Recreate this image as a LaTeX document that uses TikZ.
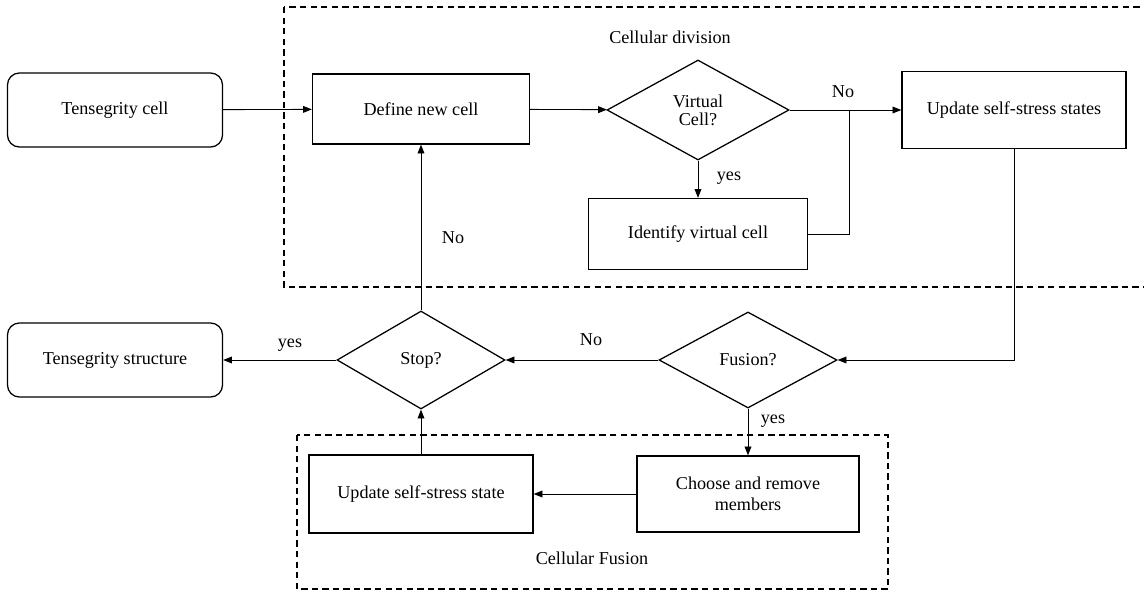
\documentclass[tikz,border=0pt]{standalone}
\usepackage{fontspec}
\setmainfont{Liberation Serif}
\usetikzlibrary{shapes.geometric, positioning, arrows.meta}

\tikzset{
  procbox/.style={draw, line width=0.9pt, align=center, inner sep=2pt},
  termbox/.style={draw, line width=0.9pt, rounded corners=0.3cm,
    minimum width=5.375cm, minimum height=1.85cm},
  decision/.style={draw, diamond, line width=0.9pt, inner sep=0pt, align=center},
  group/.style={line width=0.8pt, dash pattern=on 4.5pt off 3pt},
  link/.style={line width=0.6pt},
  conn/.style={link, -{Triangle[length=2.2mm,width=1.7mm]}}
}

\begin{document}
\begin{tikzpicture}[x=0.025cm, y=-0.025cm, font=\fontsize{12.9}{15}\selectfont]
    \useasboundingbox (0,0) rectangle (1144,592);
    % Dashed groups
    \draw [group] (284,7) rectangle (1170,287);
    \draw [group] (297,435) rectangle (888,589);
    \node (divlabel) at (670,37) {Cellular division};
    \node (fuslabel) at (592,558) {Cellular Fusion};

    % Boxes and decisions
    \node [termbox] (tcell) at (115,110) {Tensegrity cell};
    \node [procbox, minimum width=5.425cm, minimum height=1.75cm] (define) at (421,109) {Define new cell};
    \node [decision, minimum width=4.55cm, minimum height=2.5cm] (virtual) at (698,110) {Virtual\\[-2pt]Cell?};
    \node [procbox, minimum width=5.6cm, minimum height=1.925cm] (update1) at (1014,110) {Update self-stress states};
    \node [procbox, minimum width=5.475cm, minimum height=1.775cm] (identify) at (698,234) {Identify virtual cell};
    \coordinate (join) at (849,110);

    \node [termbox] (tstruct) at (115,360) {Tensegrity structure};
    \node [decision, minimum width=4.2cm, minimum height=2.45cm] (stop) at (421,360) {Stop?};
    \node [decision, minimum width=4.45cm, minimum height=2.4cm] (fusion) at (748,360) {Fusion?};
    \node [procbox, minimum width=5.6cm, minimum height=1.95cm] (update2) at (421,494) {Update self-stress state};
    \node [procbox, minimum width=5.55cm, minimum height=1.9cm] (choose) at (748,494) {Choose and remove\\members};

    % Connectors
    \draw [conn] (tcell) -- (define);
    \draw [conn] (define) -- (virtual);
    \draw [conn] (virtual) -- (update1);
    \draw [conn] (virtual) -- (identify);
    \draw [link] (identify.east) -| (join);
    \draw [conn] (update1.south) |- (fusion.east);
    \draw [conn] (fusion) -- (stop);
    \draw [conn] (stop) -- (tstruct);
    \draw [conn] (stop) -- (define);
    \draw [conn] (fusion) -- (choose);
    \draw [conn] (choose) -- (update2);
    \draw [conn] (update2) -- (stop);

    % Branch labels
    \node (novirtual) at (843,92) {No};
    \node (yesvirtual) at (729,178) {yes};
    \node (nostop) at (453,238) {No};
    \node (yesstop) at (290,345) {yes};
    \node (nofusion) at (591,340) {No};
    \node (yesfusion) at (773,421) {yes};
\end{tikzpicture}
\end{document}
